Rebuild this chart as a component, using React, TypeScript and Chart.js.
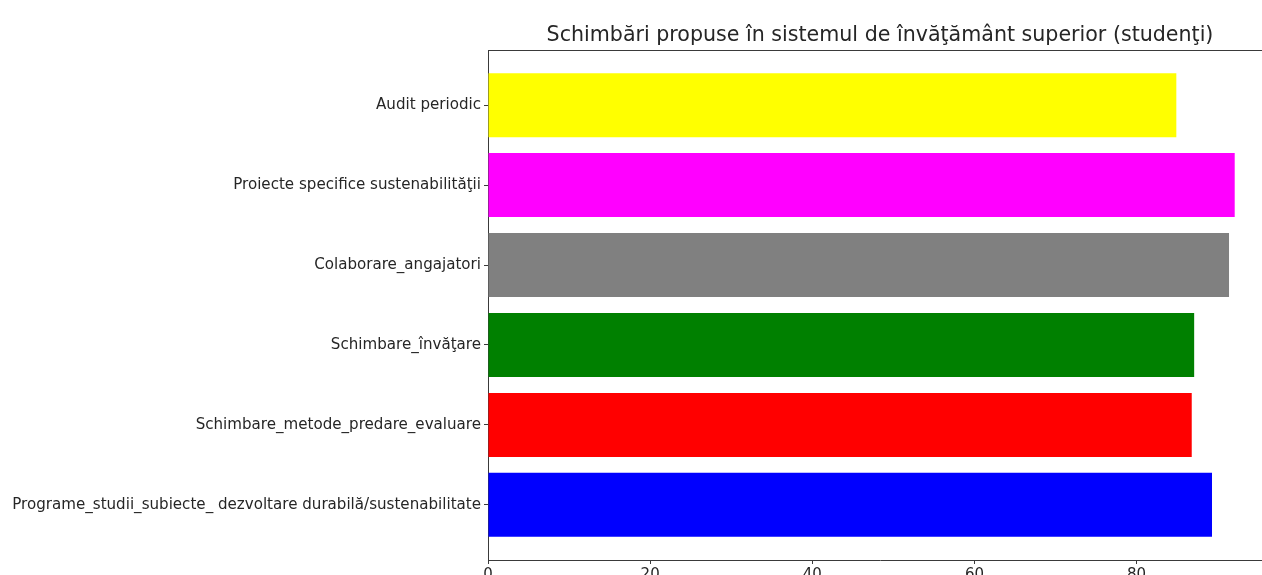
import React, { useEffect, useRef } from "react";
import { Chart, registerables } from "chart.js";

Chart.register(...registerables);

const categories: string[] = [
  "Audit periodic",
  "Proiecte specifice sustenabilităţii",
  "Colaborare_angajatori",
  "Schimbare_învăţare",
  "Schimbare_metode_predare_evaluare",
  "Programe_studii_subiecte_ dezvoltare durabilă/sustenabilitate",
];
const values: number[] = [84.9, 92.1, 91.4, 87.1, 86.8, 89.3];
const barColors: string[] = ["#ffff00", "#ff00ff", "#808080", "#008000", "#ff0000", "#0000ff"];
const xTicks: number[] = [0, 20, 40, 60, 80];
const titleText = "Schimbări propuse în sistemul de învăţământ superior (studenţi)";

const FONT = "'DejaVu Sans', 'Liberation Sans', sans-serif";

const frame = {
  id: "frame",
  afterDatasetsDraw(chart: any) {
    const { ctx, chartArea } = chart;
    ctx.save();
    ctx.strokeStyle = "#3a3a3a";
    ctx.lineWidth = 1;
    ctx.beginPath();
    ctx.moveTo(chartArea.left, chartArea.top + 0.5);
    ctx.lineTo(chartArea.right, chartArea.top + 0.5);
    ctx.lineTo(chartArea.right - 0.5, chartArea.bottom);
    ctx.stroke();
    ctx.restore();
  },
};

export default function App() {
  const ref = useRef<HTMLCanvasElement | null>(null);
  useEffect(() => {
    if (!ref.current) return;
    const chart = new Chart(ref.current, {
      type: "bar",
      data: {
        datasets: [
          {
            data: values.map((v, i) => ({ x: v, y: i })),
            backgroundColor: barColors,
            borderWidth: 0,
            barPercentage: 0.8,
            categoryPercentage: 1.0,
          },
        ],
      },
      plugins: [frame],
      options: {
        indexAxis: "y",
        animation: false,
        responsive: false,
        layout: { padding: { left: 0, right: 8, top: 0, bottom: 0 } },
        plugins: {
          legend: { display: false },
          tooltip: { enabled: false },
          title: {
            display: true,
            text: titleText,
            fullSize: false,
            color: "#262626",
            font: { family: FONT, size: 20.6, weight: "normal", lineHeight: 1.2 },
            padding: { top: 23, bottom: 2.28 },
          },
        },
        scales: {
          x: {
            type: "linear",
            min: 0,
            max: 96.7,
            offset: false,
            afterBuildTicks: (scale: any) => {
              scale.ticks = xTicks.map((v) => ({ value: v }));
            },
            afterFit: (scale: any) => {
              scale.height = 40;
            },
            grid: { offset: false, drawOnChartArea: false, drawTicks: true, tickLength: 4, color: "#3a3a3a" },
            border: { display: true, color: "#3a3a3a", width: 1 },
            ticks: {
              color: "#262626",
              font: { family: FONT, size: 15 },
              padding: 2,
              maxRotation: 0,
            },
          },
          y: {
            type: "linear",
            min: -0.69,
            max: 5.69,
            reverse: true,
            offset: false,
            afterBuildTicks: (scale: any) => {
              scale.ticks = categories.map((_, i) => ({ value: i }));
            },
            afterFit: (scale: any) => {
              scale.width = 488;
            },
            grid: { offset: false, drawOnChartArea: false, drawTicks: true, tickLength: 4, color: "#3a3a3a" },
            border: { display: true, color: "#3a3a3a", width: 1 },
            ticks: {
              color: "#262626",
              font: { family: FONT, size: 15.1 },
              padding: 3,
              callback: (v: any) => categories[Number(v)] ?? "",
            },
          },
        },
      },
    });
    return () => chart.destroy();
  }, []);
  return (
    <div
      style={{
        position: "absolute",
        left: 0,
        top: 0,
        width: 1262,
        height: 575,
        overflow: "hidden",
        background: "#ffffff",
      }}
    >
      <canvas ref={ref} width={1280} height={600} style={{ display: "block" }} />
    </div>
  );
}
